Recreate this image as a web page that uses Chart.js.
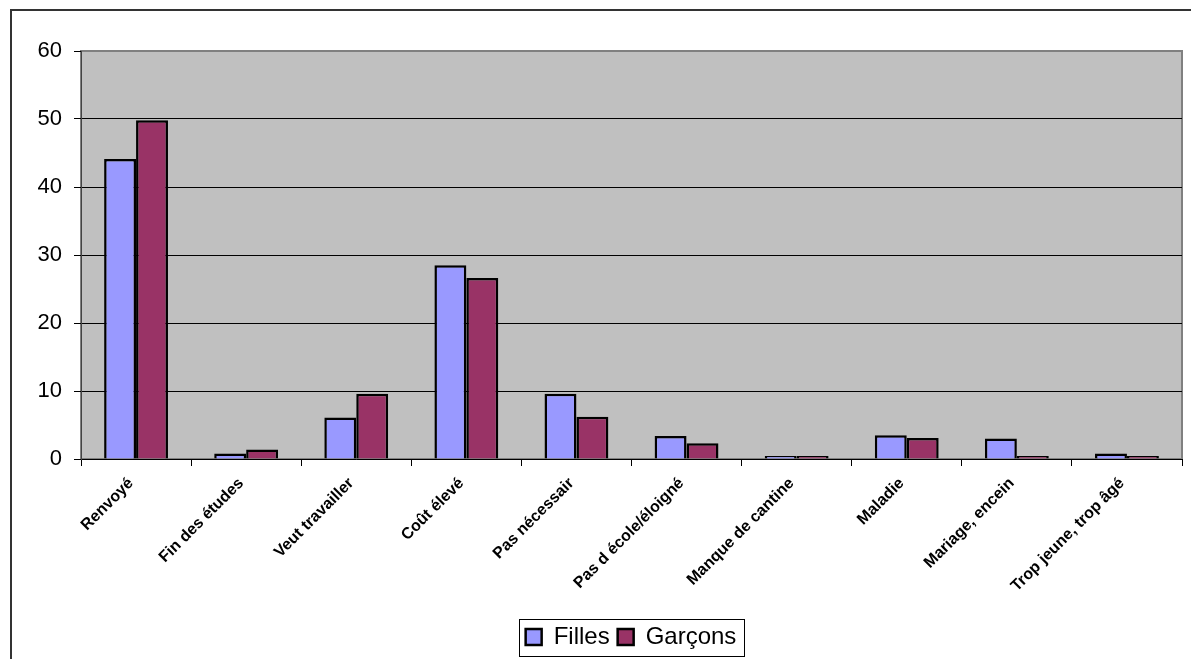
<!DOCTYPE html>
<html>
<head>
<meta charset="utf-8">
<script src="https://cdn.jsdelivr.net/npm/chart.js@4"></script>
<style>
  body { margin: 0; background: #fff; }
  #wrap { width: 1191px; height: 659px; }
</style>
</head>
<body>
<div id="wrap"><canvas id="grafica" width="1191" height="659"></canvas></div>
<script>
// Données
const categories = ['Renvoyé', 'Fin des études', 'Veut travailler', 'Coût élevé', 'Pas nécessair',
    'Pas d école/éloigné', 'Manque de cantine', 'Maladie', 'Mariage, encein', 'Trop jeune, trop âgé'];
const filles = [44.1, 0.8, 6.1, 28.5, 9.6, 3.4, 0.2, 3.5, 3.0, 0.8];
const garcons = [49.8, 1.4, 9.6, 26.6, 6.2, 2.3, 0.4, 3.1, 0.1, 0.4];
const yTicks = [0, 10, 20, 30, 40, 50, 60];

const police = "'Liberation Sans', Arial, sans-serif";
const decalageLegende = 40;

// fond gris de la zone de tracé + cadre extérieur + cadre de la légende
const cadres = {
    id: 'cadres',
    afterUpdate(chart) {
        // légende décalée vers la droite comme sur l'original
        const lg = chart.legend;
        lg.left += decalageLegende;
        lg.right += decalageLegende;
    },
    beforeDraw(chart) {
        const {ctx, chartArea: a} = chart;
        ctx.save();
        ctx.fillStyle = '#fff';
        ctx.fillRect(0, 0, chart.width, chart.height);
        ctx.strokeStyle = '#333';
        ctx.lineWidth = 2;
        ctx.strokeRect(11, 10, 1300, 800);
        ctx.fillStyle = '#C0C0C0';
        ctx.fillRect(a.left, a.top, a.right - a.left, a.bottom - a.top);
        ctx.strokeStyle = '#808080';
        ctx.lineWidth = 2;
        ctx.strokeRect(a.left, a.top, a.right - a.left, a.bottom - a.top);
        ctx.restore();
    },
    afterDraw(chart) {
        const lg = chart.legend;
        if (!lg || !lg.lineWidths) return;
        const pad = lg.options.labels.padding;
        const w = lg.lineWidths[0];
        const x0 = (lg.left + pad + lg.right - w) / 2;
        const ctx = chart.ctx;
        ctx.save();
        ctx.strokeStyle = '#000';
        ctx.lineWidth = 1;
        ctx.strokeRect(Math.round(x0 - 7) + 0.5, Math.round(lg.top + pad - 6) + 0.5,
            Math.round(w - pad + 14), 37);
        ctx.restore();
    }
};

new Chart(document.getElementById('grafica').getContext('2d'), {
    type: 'bar',
    data: {
        labels: categories,
        datasets: [{
            label: 'Filles',
            data: filles,
            backgroundColor: '#9999FF',
            borderColor: '#000',
            borderWidth: 2.5
        }, {
            label: 'Garçons',
            data: garcons,
            backgroundColor: '#993366',
            borderColor: '#000',
            borderWidth: 2.5
        }]
    },
    options: {
        responsive: false,
        animation: false,
        devicePixelRatio: 1,
        layout: { padding: { top: 51, left: 0, right: 9, bottom: 0 } },
        datasets: { bar: { categoryPercentage: 0.58, barPercentage: 1, minBarLength: 3 } },
        plugins: {
            tooltip: { enabled: false },
            legend: {
                position: 'bottom',
                labels: {
                    color: '#000',
                    font: { family: police, size: 24 },
                    boxWidth: 16,
                    boxHeight: 16,
                    padding: 8
                }
            }
        },
        scales: {
            x: {
                afterFit(scale) { scale.height = 158; },
                border: { color: '#000', width: 1 },
                grid: { offset: true, drawOnChartArea: false, tickLength: 7, tickColor: '#000' },
                ticks: {
                    color: '#000',
                    autoSkip: false,
                    maxRotation: 45,
                    minRotation: 45,
                    padding: 8,
                    labelOffset: -5,
                    font: { family: police, size: 16, weight: 'bold' }
                }
            },
            y: {
                min: 0,
                max: 60,
                afterFit(scale) { scale.width = 81; },
                afterBuildTicks(scale) { scale.ticks = yTicks.map(v => ({ value: v })); },
                border: { color: '#444', width: 1 },
                grid: {
                    color: ctx => (ctx.tick && ctx.tick.value > 0 && ctx.tick.value < 60) ? '#000' : 'rgba(0,0,0,0)',
                    tickColor: '#000',
                    tickLength: 7
                },
                ticks: {
                    color: '#000',
                    padding: 12,
                    font: { family: police, size: 22 }
                }
            }
        }
    },
    plugins: [cadres]
});
</script>
</body>
</html>
